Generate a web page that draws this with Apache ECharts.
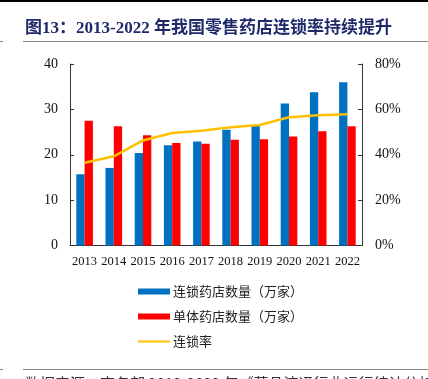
<!DOCTYPE html>
<html><head><meta charset="utf-8">
<script src="https://cdn.jsdelivr.net/npm/echarts@6/dist/echarts.min.js"></script>
<style>html,body{margin:0;padding:0;background:#fff;}#c{width:428px;height:379px;}</style>
</head><body><div id="c"></div>
<script>
var years = ['2013','2014','2015','2016','2017','2018','2019','2020','2021','2022'];
var chainStores = [15.7, 17.1, 20.4, 22.1, 22.9, 25.5, 26.4, 31.3, 33.8, 36.0];
var singleStores = [27.5, 26.3, 24.3, 22.6, 22.4, 23.3, 23.4, 24.0, 25.2, 26.3];
var chainRate = [36.5, 39.3, 46.3, 49.6, 50.6, 52.1, 53.1, 56.5, 57.4, 57.8];
var leftTicks = [0, 10, 20, 30, 40];
var rightTicks = [0, 20, 40, 60, 80];
var names = ['连锁药店数量（万家）', '单体药店数量（万家）', '连锁率'];

var chart = echarts.init(document.getElementById('c'));
var serif = '"Liberation Serif", "Times New Roman", serif';
var axisLineStyle = {color: '#333', width: 1};
chart.setOption({
  animation: false,
  graphic: [
    {type: 'rect', shape: {x: 0, y: 0, width: 428, height: 2}, style: {fill: '#000'}},
    {type: 'text', left: 25, top: 20, style: {text: '图13：2013-2022 年我国零售药店连锁率持续提升', fill: '#1F2A6B', font: 'bold 17px "Liberation Serif", "Noto Sans CJK SC", serif'}},
    {type: 'rect', shape: {x: 23, y: 41, width: 405, height: 1}, style: {fill: '#888'}},
    {type: 'rect', shape: {x: 0, y: 41, width: 3, height: 1}, style: {fill: '#888'}},
    {type: 'rect', shape: {x: 23, y: 369, width: 405, height: 1}, style: {fill: '#888'}},
    {type: 'rect', shape: {x: 0, y: 369, width: 3, height: 1}, style: {fill: '#888'}},
    {type: 'text', left: 25, top: 376, style: {text: '数据来源：商务部 2013-2022 年《药品流通行业运行统计分析报告》', fill: '#333', font: '15px "Noto Sans CJK SC", sans-serif'}}
  ],
  grid: {left: 70, right: 66, top: 64, height: 181.5},
  legend: {
    orient: 'vertical', left: 137, top: 285, padding: 0,
    itemWidth: 32, itemHeight: 6, itemGap: 12,
    textStyle: {fontSize: 13, color: '#222', fontFamily: '"Noto Sans CJK SC", sans-serif', padding: [0,0,0,-2]},
    data: [{name: names[0], icon: 'rect'}, {name: names[1], icon: 'rect'}, {name: names[2], itemStyle: {opacity: 0}}]
  },
  xAxis: {
    type: 'category', data: years, boundaryGap: true,
    axisLine: {lineStyle: axisLineStyle},
    axisTick: {inside: true, length: 4, lineStyle: axisLineStyle},
    axisLabel: {color: '#111', fontSize: 12.5, fontFamily: serif, margin: 10, interval: 0}
  },
  yAxis: [
    {type: 'value', min: 0, max: 40, interval: 10,
     axisLine: {show: true, lineStyle: axisLineStyle},
     axisTick: {show: true, inside: true, length: 4, lineStyle: axisLineStyle},
     splitLine: {show: false},
     axisLabel: {color: '#111', fontSize: 14, fontFamily: serif, margin: 12}},
    {type: 'value', min: 0, max: 80, interval: 20,
     axisLine: {show: true, lineStyle: axisLineStyle},
     axisTick: {show: true, inside: true, length: 4, lineStyle: axisLineStyle},
     splitLine: {show: false},
     axisLabel: {color: '#111', fontSize: 14, fontFamily: serif, margin: 13, formatter: '{value}%'}}
  ],
  series: [
    {name: names[0], type: 'bar', data: chainStores, barWidth: 8.3, barGap: '0%', itemStyle: {color: '#0070C0'}},
    {name: names[1], type: 'bar', data: singleStores, barWidth: 8.3, barGap: '0%', itemStyle: {color: '#FF0000'}},
    {name: names[2], type: 'line', yAxisIndex: 1, data: chainRate, symbol: 'none', lineStyle: {color: '#FFC000', width: 2.5}, itemStyle: {color: '#FFC000'}}
  ]
});
</script></body></html>
